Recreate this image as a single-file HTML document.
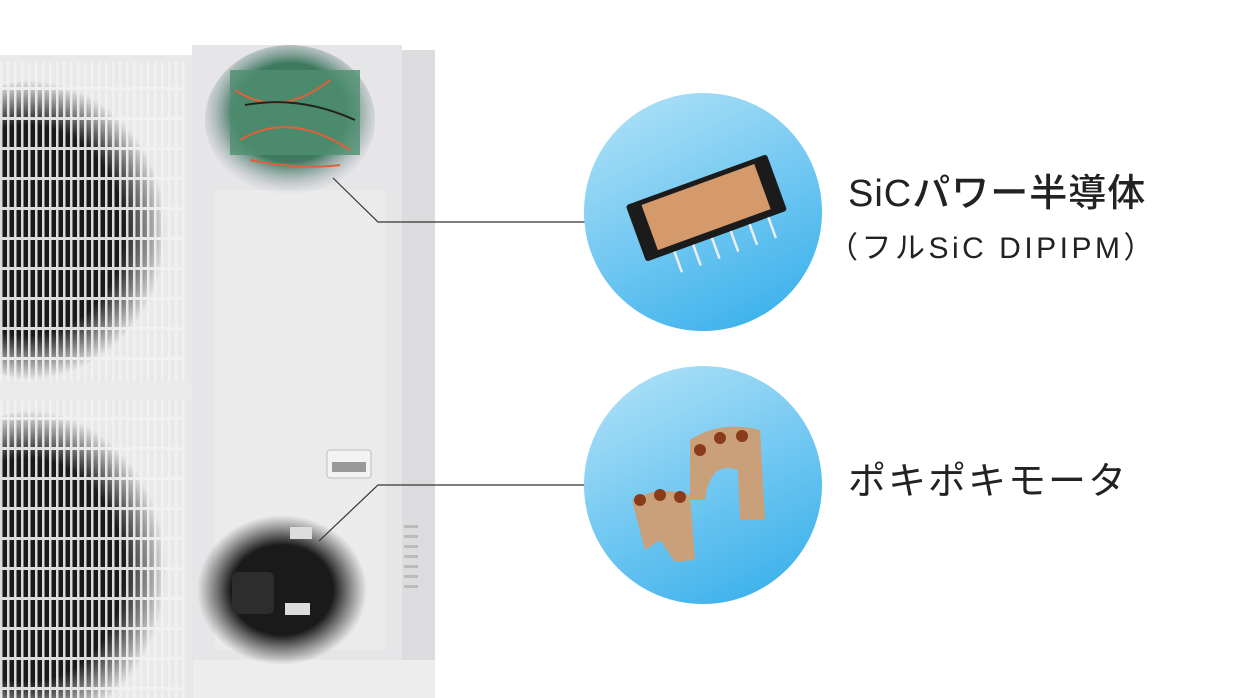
<!DOCTYPE html>
<html><head><meta charset="utf-8"><style>
body{margin:0;width:1240px;height:698px;background:#fff;overflow:hidden;position:relative;font-family:"Liberation Sans","Noto Sans CJK JP",sans-serif}
.a{position:absolute}
</style></head><body>
<svg class="a" style="left:0;top:0" width="1240" height="698">
<defs>
<radialGradient id="fan" cx="0.45" cy="0.5" r="0.5"><stop offset="0.7" stop-color="#1a1a1a"/><stop offset="1" stop-color="#1a1a1a" stop-opacity="0"/></radialGradient>
<radialGradient id="comp" cx="0.5" cy="0.5" r="0.5"><stop offset="0.6" stop-color="#1a1a1a"/><stop offset="1" stop-color="#2a2a2a" stop-opacity="0"/></radialGradient>
<radialGradient id="pcb" cx="0.5" cy="0.45" r="0.55"><stop offset="0.6" stop-color="#3f7a60"/><stop offset="1" stop-color="#aab" stop-opacity="0"/></radialGradient>
<linearGradient id="blue" x1="0.2" y1="0" x2="0.7" y2="1"><stop offset="0" stop-color="#ade0f7"/><stop offset="1" stop-color="#3db2ec"/></linearGradient>
<pattern id="grille" width="7" height="30" patternUnits="userSpaceOnUse"><rect x="0" width="2.5" height="30" fill="#f2f2f2"/><rect y="27" width="7" height="3" fill="#f2f2f2"/></pattern>
</defs>
<rect x="0" y="55" width="192" height="643" fill="#e9e9ea"/>
<rect x="192" y="45" width="210" height="653" fill="#e6e6e8"/>
<rect x="402" y="50" width="33" height="648" fill="#dcdcde"/>
<rect x="193" y="660" width="242" height="38" fill="#ededee"/>
<rect x="215" y="190" width="170" height="460" fill="#ebebec"/>
<ellipse cx="40" cy="230" rx="140" ry="150" fill="url(#fan)"/>
<ellipse cx="40" cy="570" rx="140" ry="160" fill="url(#fan)"/>
<rect x="0" y="62" width="185" height="320" fill="url(#grille)" opacity="0.9"/>
<rect x="0" y="400" width="185" height="298" fill="url(#grille)" opacity="0.9"/>
<rect x="0" y="382" width="190" height="18" fill="#eaeaea"/>
<ellipse cx="290" cy="120" rx="85" ry="75" fill="url(#pcb)"/>
<rect x="230" y="70" width="130" height="85" fill="#4f8f6f" opacity="0.8"/>
<path d="M235 90 Q280 120 330 80 M240 140 Q290 110 350 150 M250 160 Q300 170 340 165" stroke="#e0603a" stroke-width="2" fill="none"/>
<path d="M245 105 Q300 95 355 120" stroke="#222" stroke-width="2" fill="none"/>
<rect x="327" y="450" width="44" height="28" rx="3" fill="#f3f3f3" stroke="#bbb"/>
<rect x="332" y="462" width="34" height="10" fill="#999"/>
<g fill="#bbb"><rect x="404" y="525" width="14" height="3"/><rect x="404" y="535" width="14" height="3"/><rect x="404" y="545" width="14" height="3"/><rect x="404" y="555" width="14" height="3"/><rect x="404" y="565" width="14" height="3"/><rect x="404" y="575" width="14" height="3"/><rect x="404" y="585" width="14" height="3"/></g>
<ellipse cx="282" cy="590" rx="85" ry="75" fill="url(#comp)"/>
<rect x="232" y="572" width="42" height="42" rx="6" fill="#2d2d2d"/>
<rect x="290" y="527" width="22" height="12" fill="#ddd"/>
<rect x="285" y="603" width="25" height="12" fill="#ddd"/>
<polyline points="333,178 378,222 585,222" fill="none" stroke="#333" stroke-width="1.2"/>
<polyline points="319,541 378,485 585,485" fill="none" stroke="#333" stroke-width="1.2"/>
<circle cx="703" cy="212" r="119" fill="url(#blue)"/>
<circle cx="703" cy="485" r="119" fill="url(#blue)"/>
<g transform="rotate(-20 700 205)">
<rect x="630" y="180" width="150" height="60" rx="3" fill="#1b1b1b"/>
<rect x="645" y="185" width="120" height="48" fill="#d59a6c"/>
<g stroke="#eee" stroke-width="2.5"><line x1="660" y1="240" x2="660" y2="262"/><line x1="680" y1="240" x2="680" y2="262"/><line x1="700" y1="240" x2="700" y2="262"/><line x1="720" y1="240" x2="720" y2="262"/><line x1="740" y1="240" x2="740" y2="262"/><line x1="760" y1="240" x2="760" y2="262"/></g>
</g>
<path d="M690 440 Q720 420 760 430 L765 520 L740 520 L738 470 Q710 460 705 500 L690 500 Z" fill="#c9a07a"/>
<path d="M632 500 Q660 485 690 495 L695 560 L675 562 L660 540 L645 550 Z" fill="#c9a07a"/>
<g fill="#8a3b1a"><circle cx="700" cy="450" r="6"/><circle cx="720" cy="438" r="6"/><circle cx="742" cy="436" r="6"/><circle cx="640" cy="500" r="6"/><circle cx="660" cy="495" r="6"/><circle cx="680" cy="497" r="6"/></g>
</svg>
<div class="a" style="left:848px;top:171px;font-size:38px;letter-spacing:1px;font-weight:500;color:#222;line-height:46px;white-space:nowrap">SiCパワー半導体</div>
<div class="a" style="left:828px;top:230px;font-size:30px;letter-spacing:3.5px;color:#222;line-height:38px;white-space:nowrap">（フルSiC DIPIPM）</div>
<div class="a" style="left:848px;top:459px;font-size:38px;letter-spacing:2px;color:#222;line-height:46px;white-space:nowrap">ポキポキモータ</div>
</body></html>
